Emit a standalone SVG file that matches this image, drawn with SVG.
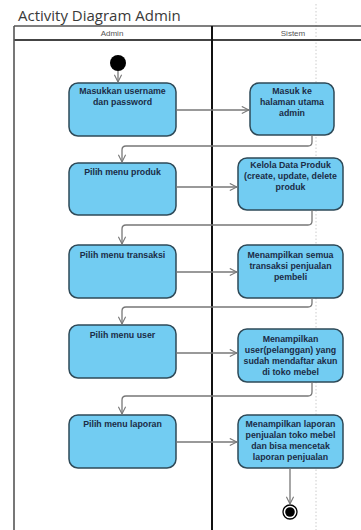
<svg xmlns="http://www.w3.org/2000/svg" width="361" height="530" viewBox="0 0 361 530">
  <defs>
    <marker id="open" viewBox="0 0 10 10" refX="9" refY="5" markerWidth="9" markerHeight="9" orient="auto" markerUnits="userSpaceOnUse">
      <path d="M1,1 L9,5 L1,9" fill="none" stroke="#777" stroke-width="1.2"/>
    </marker>
  </defs>
  <style>
    .title { font-family: "Open Sans", "Liberation Sans", sans-serif; font-size: 15px; fill: #3a3a3a; }
    .lane-label { font-family: "Liberation Sans", Arial, sans-serif; font-size: 8px; fill: #555; text-anchor: middle; }
    .act rect { fill: #72CCF2; stroke: #2E4A58; stroke-width: 1.5; }
    .act text { font-family: "Liberation Sans", Arial, sans-serif; font-size: 8.8px; font-weight: bold; fill: #1B2C47; text-anchor: middle; }
    .flow { fill: none; stroke: #777; stroke-width: 1.3; marker-end: url(#open); }
  </style>

  <rect width="361" height="530" fill="#fff"/>

  <!-- title -->
  <text class="title" x="18" y="21">Activity Diagram Admin</text>

  <!-- guide line -->
  <line x1="316" y1="4" x2="316" y2="530" stroke="#ccc" stroke-width="1" stroke-dasharray="1.5,2"/>

  <!-- swimlanes -->
  <g id="swimlanes">
    <line x1="14" y1="26" x2="361" y2="26" stroke="#555" stroke-width="1.3"/>
    <line x1="14" y1="40" x2="361" y2="40" stroke="#444" stroke-width="1.8"/>
    <line x1="14" y1="26" x2="14" y2="530" stroke="#555" stroke-width="1.6"/>
    <line x1="212" y1="26" x2="212" y2="530" stroke="#111" stroke-width="2"/>
    <text class="lane-label" x="112" y="36">Admin</text>
    <text class="lane-label" x="293" y="36">Sistem</text>
  </g>

  <!-- start -->
  <g id="start"><circle cx="118" cy="63" r="8" fill="#000"/></g>

  <!-- activities -->
  <g id="a1" class="act"><rect x="69" y="83" width="107" height="53" rx="9"/>
    <text x="122.5" y="94">Masukkan username</text><text x="122.5" y="105">dan password</text></g>
  <g id="a2" class="act"><rect x="250" y="83" width="84" height="52" rx="9"/>
    <text x="292" y="94">Masuk ke</text><text x="292" y="105">halaman utama</text><text x="292" y="116">admin</text></g>

  <g id="a3" class="act"><rect x="69" y="163" width="107" height="52" rx="9"/>
    <text x="122.5" y="175">Pilih menu produk</text></g>
  <g id="a4" class="act"><rect x="238" y="158" width="105" height="52" rx="9"/>
    <text x="290.5" y="168">Kelola Data Produk</text><text x="290.5" y="179">(create, update, delete</text><text x="290.5" y="190">produk</text></g>

  <g id="a5" class="act"><rect x="69" y="245" width="107" height="53" rx="9"/>
    <text x="122.5" y="258">Pilih menu transaksi</text></g>
  <g id="a6" class="act"><rect x="238" y="245" width="105" height="53" rx="9"/>
    <text x="290.5" y="258">Menampilkan semua</text><text x="290.5" y="269">transaksi penjualan</text><text x="290.5" y="280">pembeli</text></g>

  <g id="a7" class="act"><rect x="69" y="325" width="107" height="53" rx="9"/>
    <text x="122.5" y="338">Pilih menu user</text></g>
  <g id="a8" class="act"><rect x="238" y="329" width="105" height="53" rx="9"/>
    <text x="290.5" y="342">Menampilkan</text><text x="290.5" y="353">user(pelanggan) yang</text><text x="290.5" y="364">sudah mendaftar akun</text><text x="290.5" y="375">di toko mebel</text></g>

  <g id="a9" class="act"><rect x="69" y="415" width="107" height="53" rx="9"/>
    <text x="122.5" y="427">Pilih menu laporan</text></g>
  <g id="a10" class="act"><rect x="238" y="415" width="105" height="53" rx="9"/>
    <text x="290.5" y="427">Menampilkan laporan</text><text x="290.5" y="438">penjualan toko mebel</text><text x="290.5" y="449">dan bisa mencetak</text><text x="290.5" y="460">laporan penjualan</text></g>

  <!-- end -->
  <g id="end">
    <circle cx="290" cy="512" r="7" fill="#fff" stroke="#000" stroke-width="1.3"/>
    <circle cx="290" cy="512" r="4.8" fill="#000"/>
  </g>

  <!-- connectors -->
  <g id="connectors">
    <path class="flow" d="M118,71 V82"/>
    <path class="flow" d="M176,110 H249"/>
    <path class="flow" d="M312,135 V142 Q312,146 308,146 H126 Q122,146 122,150 V162"/>
    <path class="flow" d="M176,187 H237"/>
    <path class="flow" d="M312,210 V221 Q312,225 308,225 H126 Q122,225 122,229 V244"/>
    <path class="flow" d="M176,272 H237"/>
    <path class="flow" d="M312,298 V303 Q312,307 308,307 H126 Q122,307 122,311 V324"/>
    <path class="flow" d="M176,353 H237"/>
    <path class="flow" d="M312,382 V392 Q312,396 308,396 H126 Q122,396 122,400 V414"/>
    <path class="flow" d="M176,442 H237"/>
    <path class="flow" d="M290,468 V504"/>
  </g>
</svg>
